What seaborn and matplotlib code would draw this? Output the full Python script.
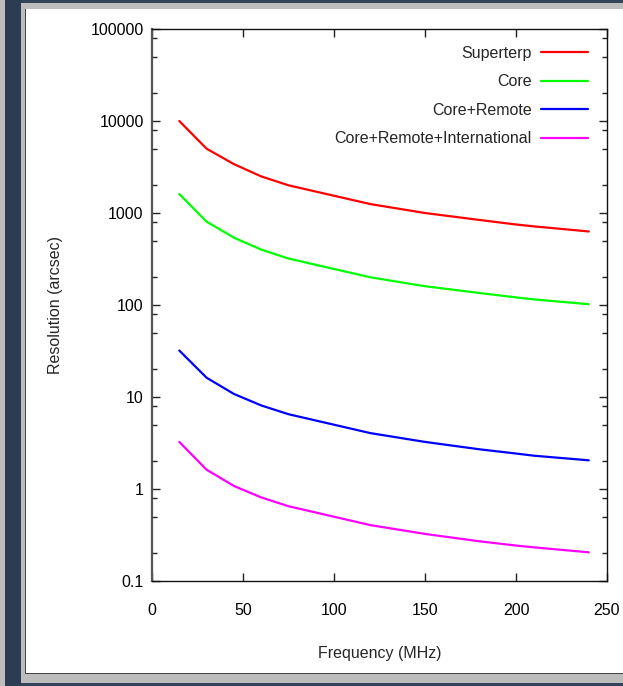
import numpy as np
import pandas as pd
import seaborn as sns
import matplotlib.pyplot as plt
from matplotlib.patches import Rectangle
from matplotlib.ticker import LogLocator, FixedLocator, FuncFormatter, NullLocator

# Values (resolution in arcsec)
freq = [15, 30, 45, 60, 75, 120, 150, 180, 200, 210, 240]
superterp = [10000, 5000, 3400, 2500, 2000, 1250, 1000, 840, 750, 715, 630]
core = [1610, 805, 540, 400, 320, 200, 160, 135, 121, 115, 102]
core_remote = [32, 16.2, 10.8, 8.1, 6.5, 4.05, 3.25, 2.7, 2.43, 2.3, 2.05]
core_remote_intl = [3.25, 1.62, 1.08, 0.81, 0.65, 0.405, 0.325, 0.27, 0.243, 0.232, 0.205]

labels = ['Superterp', 'Core', 'Core+Remote', 'Core+Remote+International']
colors = ['#ff0000', '#00ff00', '#0000ff', '#ff00ff']
yticks = [0.1, 1, 10, 100, 1000, 10000, 100000]
xticks = [0, 50, 100, 150, 200, 250]

series = [superterp, core, core_remote, core_remote_intl]
df = pd.concat([pd.DataFrame({'freq': freq, 'res': s, 'config': lab})
                for s, lab in zip(series, labels)], ignore_index=True)

sns.set_style('ticks')
plt.rcParams['font.family'] = ['Liberation Sans', 'DejaVu Sans']

W, H = 623, 686
fig = plt.figure(figsize=(W / 100, H / 100), dpi=100)
fig.patch.set_facecolor('white')


def px_rect(x, y, w, h, color, z=0):
    # rectangle in pixel coords (top-left origin)
    fig.patches.append(Rectangle((x / W, 1 - (y + h) / H), w / W, h / H,
                                 transform=fig.transFigure, facecolor=color,
                                 edgecolor='none', zorder=z))


# window frame around the plot
px_rect(0, 0, W, 3, '#33435a')
px_rect(0, 3, W, 6, '#bdbdbd')
px_rect(0, 674, W, 12, '#bdbdbd')
px_rect(0, 683, W, 3, '#33435a')
px_rect(0, 0, 5, H, '#bdbdbd')
px_rect(5, 0, 16, H, '#2c3c52')
px_rect(21, 3, 4, 680, '#bdbdbd')
px_rect(25, 8.5, 1, 665, '#444444')
px_rect(25, 673, W, 1, '#444444')

ax = fig.add_axes([152 / W, 1 - 581 / H, (607 - 152) / W, (581 - 29) / H])

sns.lineplot(data=df, x='freq', y='res', hue='config', hue_order=labels,
             palette=colors, linewidth=1.6, ax=ax)

ax.set_yscale('log')
ax.set_xlim(0, 250)
ax.set_ylim(0.1, 100000)
ax.xaxis.set_major_locator(FixedLocator(xticks))
ax.xaxis.set_minor_locator(NullLocator())
ax.yaxis.set_major_locator(FixedLocator(yticks))
ax.yaxis.set_minor_locator(LogLocator(base=10, subs=[2, 5, 8]))
ax.yaxis.set_major_formatter(FuncFormatter(lambda v, p: '%g' % v))

ax.tick_params(which='both', direction='in', top=True, right=True,
               colors='#222222', labelcolor='black', labelsize=11.5)
ax.tick_params(axis='y', which='major', length=6, width=1, pad=6)
ax.tick_params(axis='y', which='minor', length=3.5, width=1)
ax.tick_params(axis='x', which='major', length=6, width=1, pad=16)

for side in ['top', 'right', 'bottom']:
    ax.spines[side].set_color('#111111')
    ax.spines[side].set_linewidth(1)
ax.spines['left'].set_color('#555555')
ax.spines['left'].set_linewidth(1.6)

ax.set_xlabel('Frequency (MHz)', fontsize=11.5, labelpad=20)
ax.set_ylabel('Resolution (arcsec)', fontsize=11.5, labelpad=20)

ax.legend(loc='upper right', bbox_to_anchor=(1.0066, 1.009),
          frameon=False, markerfirst=False,
          fontsize=11.5, handlelength=3.0, labelspacing=0.85,
          borderaxespad=0.85, borderpad=0.5, handletextpad=0.55)

fig.savefig('out.png', dpi=100)
